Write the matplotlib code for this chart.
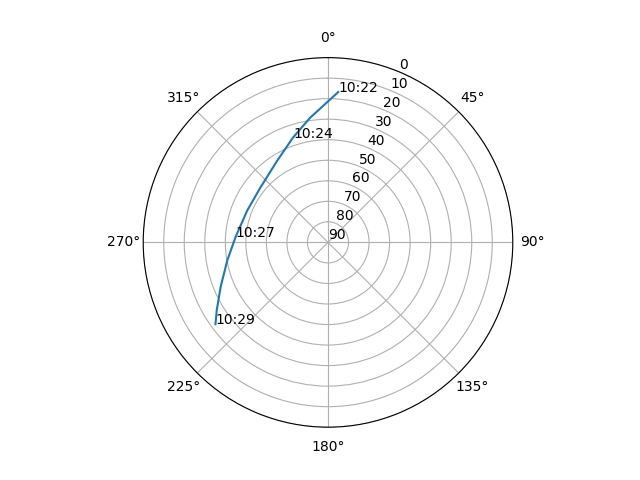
import numpy as np
import matplotlib
matplotlib.use("Agg")
from matplotlib import pyplot as plt

# satellite pass: azimuth (deg, clockwise from north) and elevation (deg)
azimuth = [3.9, 351.8, 341.5, 328.0, 309.1, 291.5, 273.3, 259.9, 247.5, 238.7, 234.0]
elevation = [16.6, 28.7, 36.2, 43.2, 47.6, 47.7, 44.9, 40.2, 33.4, 26.6, 22.25]

# time labels and the track point they belong to
label_index = [0, 2, 6, 10]
label_text = ["10:22", "10:24", "10:27", "10:29"]

fig = plt.figure(figsize=(6.4, 4.8), dpi=100)
ax = fig.add_subplot(111, projection="polar")
ax.set_theta_zero_location("N")
ax.set_theta_direction(-1)

theta = np.radians(azimuth)
ax.plot(theta, elevation)

for i, txt in zip(label_index, label_text):
    ax.text(theta[i], elevation[i], txt)

ax.set_ylim(90, 0)
ax.set_yticks(range(0, 91, 10))

fig.savefig("out.png")
